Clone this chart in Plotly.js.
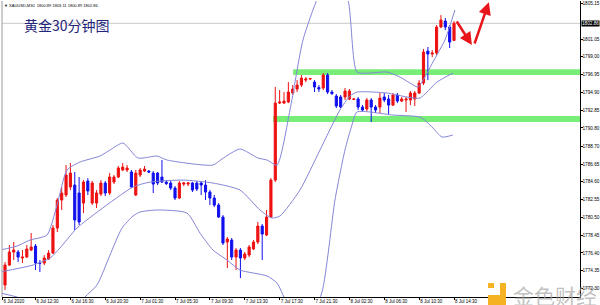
<!DOCTYPE html>
<html>
<head>
<meta charset="utf-8">
<script src="https://cdn.plot.ly/plotly-3.0.1.min.js"></script>
<style>html,body{margin:0;padding:0;background:#fff;}#chart{width:600px;height:305px;}</style>
</head>
<body>
<div id="chart"></div>
<script>
// ---- data (XAUUSD M30) ----
const barOpen = [1772.71,1775.01,1776.51,1776.51,1775.82,1775.93,1776.74,1777.20,1775.24,1775.24,
1775.70,1776.39,1779.27,1782.50,1783.08,1784.00,1784.23,1783.31,1782.15,1784.69,
1782.15,1782.15,1783.19,1784.46,1783.31,1784.57,1785.15,1785.96,1785.96,1785.73,
1783.08,1785.38,1785.84,1785.84,1785.61,1785.61,1785.15,1784.57,1784.46,1783.88,
1782.73,1784.34,1784.34,1784.46,1784.46,1784.46,1784.23,1783.42,1782.73,1781.92,
1780.54,1777.66,1777.89,1775.93,1776.74,1775.82,1776.16,1776.86,1777.66,1779.50,
1778.47,1780.54,1784.80,1793.67,1793.67,1793.79,1794.83,1795.29,1795.75,1796.32,
1796.44,1796.09,1795.46,1795.40,1796.90,1794.94,1794.48,1794.37,1794.37,1794.14,
1794.08,1794.14,1793.21,1792.99,1794.02,1793.21,1793.21,1794.37,1794.14,1793.44,
1794.60,1793.90,1794.02,1794.02,1794.14,1794.83,1795.98,1799.66,1799.32,1799.43,
1802.43,1803.12,1802.43,1800.89];
const barHigh = [1775.36,1777.32,1777.66,1776.74,1776.74,1777.32,1778.70,1777.43,1775.59,1776.16,
1776.74,1779.62,1782.73,1784.00,1786.53,1786.76,1785.73,1785.15,1784.80,1785.03,
1784.69,1783.65,1784.80,1784.69,1785.61,1785.38,1786.42,1786.76,1786.53,1785.96,
1785.96,1786.19,1786.42,1785.96,1785.84,1785.73,1787.11,1784.80,1784.69,1784.11,
1784.69,1784.57,1784.57,1784.57,1784.69,1784.69,1784.80,1783.65,1783.08,1782.15,
1780.77,1778.24,1778.12,1776.97,1776.97,1776.51,1777.32,1777.89,1779.97,1779.74,
1781.35,1785.03,1795.52,1795.17,1794.94,1796.09,1795.75,1796.32,1796.90,1796.67,
1796.55,1796.32,1795.75,1797.13,1797.13,1795.17,1794.71,1794.60,1795.40,1795.29,
1794.25,1794.37,1793.44,1794.25,1794.25,1793.44,1794.83,1794.83,1794.60,1794.83,
1794.83,1794.37,1794.37,1795.06,1795.06,1796.32,1799.90,1800.13,1799.78,1802.66,
1803.81,1803.47,1802.66,1803.11];
const barLow = [1772.13,1774.90,1775.59,1775.36,1775.24,1775.82,1776.62,1774.44,1774.21,1775.01,
1775.59,1776.30,1778.81,1781.35,1782.85,1783.65,1779.04,1779.62,1781.00,1783.08,
1781.92,1781.58,1782.96,1782.96,1783.08,1784.34,1785.03,1785.84,1785.73,1783.88,
1782.96,1785.15,1785.73,1785.61,1783.31,1784.23,1784.46,1784.23,1783.65,1782.50,
1782.62,1784.11,1784.11,1783.42,1783.54,1783.08,1782.50,1781.92,1781.69,1780.43,
1777.32,1774.67,1775.59,1774.44,1773.51,1775.59,1775.93,1776.74,1777.43,1775.59,
1778.35,1780.43,1784.57,1793.56,1793.56,1793.67,1794.60,1794.94,1795.52,1796.09,
1796.32,1794.94,1794.94,1795.17,1794.71,1794.60,1793.10,1793.10,1794.02,1794.02,
1794.02,1792.87,1792.64,1792.75,1791.49,1792.52,1792.52,1793.79,1792.29,1793.33,
1793.67,1793.79,1792.64,1793.44,1793.33,1794.71,1795.75,1796.32,1798.97,1799.20,
1802.31,1802.08,1800.01,1800.89];
const barClose = [1775.01,1776.51,1776.74,1775.93,1775.93,1776.86,1777.09,1775.24,1775.21,1775.82,
1776.39,1779.27,1782.50,1783.31,1785.38,1785.61,1780.20,1779.97,1784.57,1783.54,
1784.46,1783.31,1784.46,1783.31,1785.15,1785.15,1786.19,1786.30,1786.19,1784.00,
1785.61,1785.96,1786.07,1785.73,1784.34,1784.46,1784.57,1784.40,1783.88,1782.73,
1784.46,1784.46,1784.46,1783.65,1783.77,1784.23,1783.42,1782.73,1781.92,1780.54,
1777.55,1778.01,1775.93,1776.74,1775.82,1776.28,1777.09,1777.66,1779.50,1778.58,
1780.54,1784.80,1793.67,1793.79,1793.90,1794.94,1795.29,1795.75,1796.55,1796.44,
1796.50,1795.52,1795.29,1796.90,1794.94,1794.77,1793.33,1793.21,1795.06,1795.06,
1794.14,1793.21,1792.87,1794.02,1793.21,1792.87,1794.25,1794.02,1793.44,1794.60,
1793.90,1794.14,1794.14,1794.83,1794.83,1795.98,1799.55,1799.32,1799.43,1802.43,
1803.24,1802.43,1800.70,1802.86];

// Bollinger bands (bar index, price)
const bbUpperX = [-1.15,2.75,5.73,9.63,11.93,14.22,17.20,21.79,24.08,27.06,30.50,34.86,37.16,47.71,49.77,53.90,58.03,60.09,62.39,65.37,68.35,71.79,75.00,78.67,80.73,83.72,87.61,90.60,92.89,94.72,96.33,98.17,100.92,103.21];
const bbUpperY = [1776.74,1777.20,1777.89,1778.47,1781.92,1785.96,1786.88,1787.57,1788.26,1789.07,1787.34,1787.57,1787.11,1786.53,1787.23,1788.38,1787.34,1787.11,1786.53,1792.87,1800.94,1805.89,1809.00,1805.54,1797.25,1797.13,1797.25,1796.67,1795.98,1795.52,1796.67,1798.40,1800.94,1804.39];
const bbMidX = [-1.15,6.42,10.32,12.61,16.51,21.79,29.36,33.26,40.83,47.71,53.90,58.49,61.24,63.07,67.66,72.25,76.83,79.13,80.73,87.61,92.20,95.18,99.08,102.75];
const bbMidY = [1774.21,1775.01,1775.82,1776.97,1779.27,1781.35,1784.00,1784.57,1784.80,1784.46,1783.65,1781.35,1780.43,1780.66,1783.65,1788.26,1792.87,1794.48,1794.94,1794.83,1794.37,1794.25,1796.09,1797.13];
const bbLowX = [-1.15,3.44,10.32,14.91,18.35,21.10,24.08,26.83,29.36,30.96,34.86,41.74,44.72,47.71,50.92,53.90,60.09,62.39,65.37,68.81,72.71,75.69,77.98,79.59,80.73,88.99,95.18,96.79,98.17,100.23,102.75];
const bbLowY = [1771.79,1771.21,1769.26,1769.26,1771.33,1772.71,1776.16,1779.27,1780.66,1781.12,1781.35,1781.00,1778.70,1776.74,1775.59,1774.44,1773.75,1772.94,1769.83,1767.53,1771.90,1782.50,1788.26,1791.14,1792.64,1792.29,1792.06,1791.49,1790.80,1789.76,1789.99];

// support / resistance zones
const zoneStart = [66.1, 61.5];
const zoneTop = [1797.56, 1792.18];
const zoneBottom = [1796.90, 1791.49];

const lastPrice = 1802.86;
const yTickVals = [1805.15,1801.05,1799.00,1796.95,1794.90,1792.85,1790.80,1788.70,1786.65,1784.60,1782.55,1780.50,1778.45,1776.40,1774.35,1772.30];
const xTickVals = [-0.6,7,15,23,31,39,47,55,63,71,79,87,95,103];
const xTickText = ['6 Jul 2020','6 Jul 12:30','6 Jul 16:30','6 Jul 20:30','7 Jul 01:30','7 Jul 05:30','7 Jul 09:30','7 Jul 13:30','7 Jul 17:30','7 Jul 21:30','8 Jul 02:30','8 Jul 06:30','8 Jul 10:30','8 Jul 14:30'];

const barIndex = barOpen.map((_, i) => i);

const bandLine = {color: '#8585d8', width: 1, shape: 'spline', smoothing: 0.6};
const traces = [
  {type: 'scatter', mode: 'lines', x: bbUpperX, y: bbUpperY, line: bandLine, hoverinfo: 'skip'},
  {type: 'scatter', mode: 'lines', x: bbMidX, y: bbMidY, line: bandLine, hoverinfo: 'skip'},
  {type: 'scatter', mode: 'lines', x: bbLowX, y: bbLowY, line: bandLine, hoverinfo: 'skip'},
  {type: 'candlestick', x: barIndex, open: barOpen, high: barHigh, low: barLow, close: barClose,
   increasing: {line: {color: '#ee1111', width: 1}, fillcolor: '#ee1111'},
   decreasing: {line: {color: '#1111ee', width: 1}, fillcolor: '#1111ee'},
   whiskerwidth: 0, hoverinfo: 'skip'}
];

const xMax = 131.9;
const shapes = [];
for (let k = 0; k < zoneTop.length; k++) {
  shapes.push({type: 'rect', xref: 'x', yref: 'y', x0: zoneStart[k], x1: xMax, y0: zoneBottom[k], y1: zoneTop[k],
    fillcolor: '#78ee78', line: {width: 0}, layer: 'below'});
}
// last price line
shapes.push({type: 'line', xref: 'paper', yref: 'y', x0: 0, x1: 1, y0: lastPrice, y1: lastPrice,
  line: {color: '#c8c8c8', width: 1}, layer: 'below'});
// left frame
shapes.push({type: 'line', xref: 'paper', yref: 'paper', x0: 0, x1: 0, y0: 0, y1: 1, line: {color: '#9a9a9a', width: 1}});
// watermark logo mark
const logoColor = '#f5b324';
shapes.push({type: 'rect', xref: 'paper', yref: 'paper', x0: 0.8616, x1: 0.872, y0: -0.027, y1: 0.0473, fillcolor: logoColor, line: {width: 0}});
shapes.push({type: 'rect', xref: 'paper', yref: 'paper', x0: 0.8408, x1: 0.872, y0: -0.027, y1: 0.0068, fillcolor: logoColor, line: {width: 0}});
shapes.push({type: 'rect', xref: 'paper', yref: 'paper', x0: 0.8408, x1: 0.8512, y0: 0.0304, y1: 0.0473, fillcolor: logoColor, line: {width: 0}});

const annotations = [
  {xref: 'paper', yref: 'paper', x: 0.035, y: 0.92, xanchor: 'left', yanchor: 'middle', showarrow: false,
   text: '黄金30分钟图', font: {family: 'Noto Sans CJK SC', size: 14, color: '#22237a'}},
  {xref: 'paper', yref: 'paper', x: 0.0, y: 1.0, xanchor: 'left', yanchor: 'top', showarrow: false,
   text: '▼ XAUUSD,M30  1800.89 1803.11 1800.89 1802.86', font: {family: 'Liberation Sans', size: 4, color: '#000'}},
  {xref: 'paper', yref: 'y', x: 1.0, y: lastPrice, xanchor: 'left', yanchor: 'middle', showarrow: false,
   text: lastPrice.toFixed(2), bgcolor: '#000', borderpad: 0, xshift: 1,
   font: {family: 'Liberation Sans', size: 4.7, color: '#fff'}},
  {xref: 'x', yref: 'y', axref: 'x', ayref: 'y', x: 107.1, y: 1800.36, ax: 103.4, ay: 1803.24,
   showarrow: true, arrowhead: 2, arrowsize: 1, arrowwidth: 2.5, arrowcolor: '#e8151b', text: ''},
  {xref: 'x', yref: 'y', axref: 'x', ayref: 'y', x: 111.0, y: 1805.3, ax: 107.6, ay: 1800.36,
   showarrow: true, arrowhead: 2, arrowsize: 1, arrowwidth: 2.5, arrowcolor: '#e8151b', text: ''},
  {xref: 'paper', yref: 'paper', x: 0.8806, y: 0.065, xanchor: 'left', yanchor: 'top', showarrow: false,
   text: '金色财经', font: {family: 'Noto Sans CJK SC', size: 21, color: 'rgba(165,165,165,0.7)'}}
];

const layout = {
  width: 600, height: 305,
  margin: {l: 2, r: 20, t: 1, b: 8},
  paper_bgcolor: '#fff', plot_bgcolor: '#fff',
  showlegend: false, hovermode: false,
  xaxis: {range: [-0.69, xMax], rangeslider: {visible: false}, showgrid: false, zeroline: false,
    showline: true, linecolor: '#000', linewidth: 1, ticks: 'outside', ticklen: 2, tickcolor: '#000',
    tickvals: xTickVals, ticktext: xTickText, ticklabelposition: 'outside right',
    tickfont: {family: 'Liberation Sans', size: 4.5, color: '#000'}, fixedrange: true},
  yaxis: {range: [1771.33, 1805.43], side: 'right', showgrid: false, zeroline: false,
    showline: true, linecolor: '#000', linewidth: 1, ticks: 'outside', ticklen: 1.5, tickcolor: '#000',
    ticklabelstandoff: -1,
    tickvals: yTickVals, ticktext: yTickVals.map(v => v.toFixed(2)),
    tickfont: {family: 'Liberation Sans', size: 4.7, color: '#000'}, fixedrange: true},
  shapes: shapes,
  annotations: annotations
};

Plotly.newPlot('chart', traces, layout, {displayModeBar: false, staticPlot: true});
</script>
</body>
</html>
